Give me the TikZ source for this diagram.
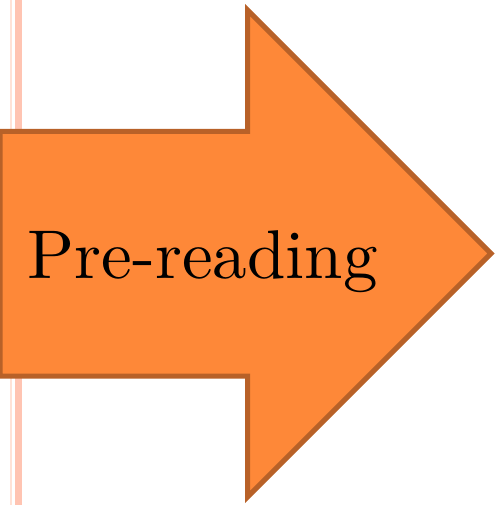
\documentclass[tikz,border=0pt]{standalone}
\usepackage{xcolor}
\usepackage{tikz}
\usetikzlibrary{positioning}
\definecolor{arrowfill}{RGB}{254,136,56}
\definecolor{arrowedge}{RGB}{184,97,40}
\definecolor{railthick}{RGB}{255,196,178}
\definecolor{railthin}{RGB}{255,226,214}

\begin{document}
\begin{tikzpicture}[
    x=1pt, y=-1pt,
    rail/.style={line width=7pt, draw=railthick},
    railfine/.style={line width=2pt, draw=railthin},
    bigarrow/.style={fill=arrowfill, draw=arrowedge, line width=5pt, miter limit=10},
    label/.style={inner sep=0pt, font=\normalsize, scale=6.9}
]
\useasboundingbox (0,0) rectangle (495,505);

% Margin rails
\coordinate (thintop) at (11,0);
\coordinate (thinbot) at (11,505);
\coordinate (thicktop) at (18.5,0);
\coordinate (thickbot) at (18.5,505);
\draw[railfine] (thintop) -- (thinbot);
\draw[rail] (thicktop) -- (thickbot);

% Arrow
\draw[bigarrow] (0,131.5) -- (247.5,131.5) -- (247.5,10) -- (491,253.5)
    -- (247.5,497) -- (247.5,376) -- (0,376) -- cycle;

\node[label, anchor=base west] (title) at (26,278) {Pre-reading};

\end{tikzpicture}
\end{document}
